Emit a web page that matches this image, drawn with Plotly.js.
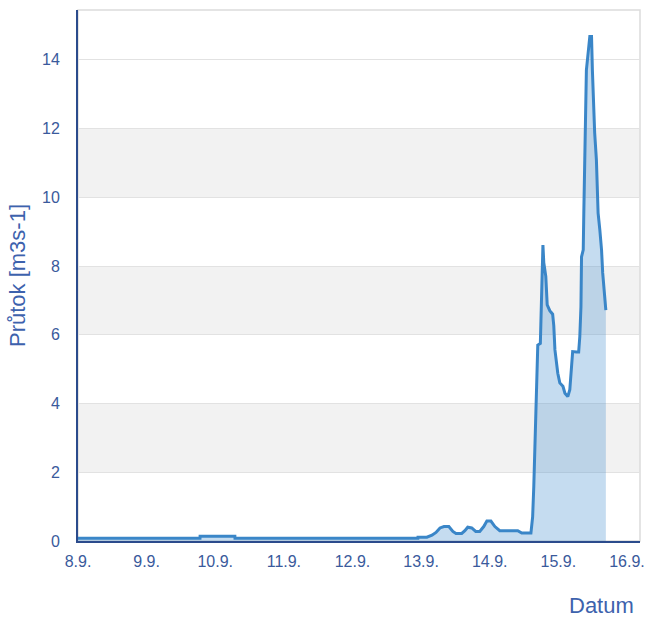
<!DOCTYPE html>
<html>
<head>
<meta charset="utf-8">
<script src="https://cdn.plot.ly/plotly-3.0.1.min.js"></script>
<style>html,body{margin:0;padding:0;background:#fff;}#chart{width:657px;height:617px;}</style>
</head>
<body>
<div id="chart"></div>
<script>
// Time stamps (local time) and flow values [m3/s]
const times = [
  "2016-09-08 00:00","2016-09-09 18:40","2016-09-09 18:42","2016-09-10 06:52","2016-09-10 06:54",
  "2016-09-12 22:52","2016-09-12 22:54","2016-09-13 02:00","2016-09-13 03:48","2016-09-13 05:12",
  "2016-09-13 06:36","2016-09-13 08:00","2016-09-13 09:42","2016-09-13 11:06","2016-09-13 12:12",
  "2016-09-13 14:12","2016-09-13 15:18","2016-09-13 16:18","2016-09-13 17:42","2016-09-13 19:06",
  "2016-09-13 20:30","2016-09-13 21:54","2016-09-13 23:00","2016-09-14 00:24","2016-09-14 01:48",
  "2016-09-14 03:30","2016-09-14 09:48","2016-09-14 11:12","2016-09-14 14:24","2016-09-14 15:00",
  "2016-09-14 15:24","2016-09-14 15:54","2016-09-14 16:24","2016-09-14 16:48","2016-09-14 17:42",
  "2016-09-14 18:06","2016-09-14 18:36","2016-09-14 18:54","2016-09-14 19:36","2016-09-14 20:06",
  "2016-09-14 21:00","2016-09-14 22:00","2016-09-14 22:24","2016-09-14 22:48","2016-09-14 23:18",
  "2016-09-14 23:48","2016-09-15 00:30","2016-09-15 01:36","2016-09-15 02:18","2016-09-15 03:18",
  "2016-09-15 04:00","2016-09-15 04:36","2016-09-15 05:00","2016-09-15 06:18","2016-09-15 07:06",
  "2016-09-15 07:30","2016-09-15 07:54","2016-09-15 08:06","2016-09-15 08:42","2016-09-15 08:54",
  "2016-09-15 09:24","2016-09-15 09:48","2016-09-15 11:00","2016-09-15 11:36","2016-09-15 11:54",
  "2016-09-15 12:06","2016-09-15 12:42","2016-09-15 13:18","2016-09-15 13:54","2016-09-15 14:30",
  "2016-09-15 15:06","2016-09-15 15:30","2016-09-15 16:12","2016-09-15 16:36"
];
const flow = [
  0.08,0.08,0.14,0.14,0.08,
  0.08,0.11,0.11,0.17,0.25,
  0.38,0.42,0.42,0.28,0.22,
  0.22,0.30,0.40,0.38,0.28,
  0.28,0.42,0.58,0.58,0.42,
  0.30,0.30,0.23,0.23,0.70,
  1.58,3.23,4.98,5.70,5.75,
  7.11,8.61,8.10,7.70,6.87,
  6.70,6.60,6.26,5.56,5.17,
  4.88,4.60,4.50,4.30,4.20,
  4.40,4.98,5.51,5.50,5.50,
  5.95,6.82,8.27,8.47,9.54,
  12.06,13.70,14.68,14.68,13.70,
  13.20,11.87,11.09,9.54,9.05,
  8.47,7.80,7.20,6.72
];
const xTickVals = ["2016-09-08","2016-09-09","2016-09-10","2016-09-11","2016-09-12","2016-09-13","2016-09-14","2016-09-15","2016-09-16"];
const xTickText = ["8.9.","9.9.","10.9.","11.9.","12.9.","13.9.","14.9.","15.9.","16.9."];
const yTickVals = [0,2,4,6,8,10,12,14];
const bandRanges = [[2,4],[6,8],[10,12]];
const yTitle = "Průtok [m3s-1]";
const xTitle = "Datum";

const labelColor = "#3a5a9c";
const titleColor = "#3d62ad";

const shapes = bandRanges.map(b => ({
  type: "rect", xref: "paper", yref: "y", x0: 0, x1: 1, y0: b[0], y1: b[1],
  fillcolor: "#f2f2f2", line: {width: 0}, layer: "below"
}));
shapes.push({type: "rect", xref: "paper", yref: "paper", x0: 0, x1: 1, y0: 0, y1: 1,
  fillcolor: "rgba(0,0,0,0)", line: {color: "#dcdcdc", width: 1.5}, layer: "below"});

const trace = {
  x: times, y: flow, type: "scatter", mode: "lines",
  line: {color: "#3a86c8", width: 3},
  fill: "tozeroy", fillcolor: "rgba(62,138,205,0.30)",
  hoverinfo: "x+y"
};

const layout = {
  width: 657, height: 617,
  margin: {l: 78, r: 17, t: 10, b: 76},
  paper_bgcolor: "#ffffff", plot_bgcolor: "#ffffff",
  showlegend: false,
  font: {family: "Liberation Sans, Arial, sans-serif", color: labelColor, size: 16},
  xaxis: {
    type: "date",
    range: ["2016-09-08 00:00", "2016-09-16 04:33"],
    tickvals: xTickVals, ticktext: xTickText,
    showgrid: false, zeroline: false,
    showline: true, linecolor: "#2b4b8c", linewidth: 2,
    ticks: "outside", ticklen: 5, tickcolor: "rgba(0,0,0,0)",
    tickfont: {size: 16, color: labelColor}
  },
  yaxis: {
    range: [0, 15.45],
    tickvals: yTickVals,
    showgrid: true, gridcolor: "#e2e2e2", gridwidth: 1,
    zeroline: false,
    showline: true, linecolor: "#2b4b8c", linewidth: 2,
    ticks: "outside", ticklen: 13, tickcolor: "rgba(0,0,0,0)",
    tickfont: {size: 16, color: labelColor},
    title: {text: yTitle, font: {size: 22, color: titleColor}, standoff: 10}
  },
  shapes: shapes,
  annotations: [{
    text: xTitle, xref: "paper", yref: "paper", x: 1, y: -0.122,
    xanchor: "right", yanchor: "middle", xshift: -4, showarrow: false,
    font: {size: 22, color: titleColor}
  }]
};

Plotly.newPlot("chart", [trace], layout, {displayModeBar: false, staticPlot: true});
</script>
</body>
</html>
